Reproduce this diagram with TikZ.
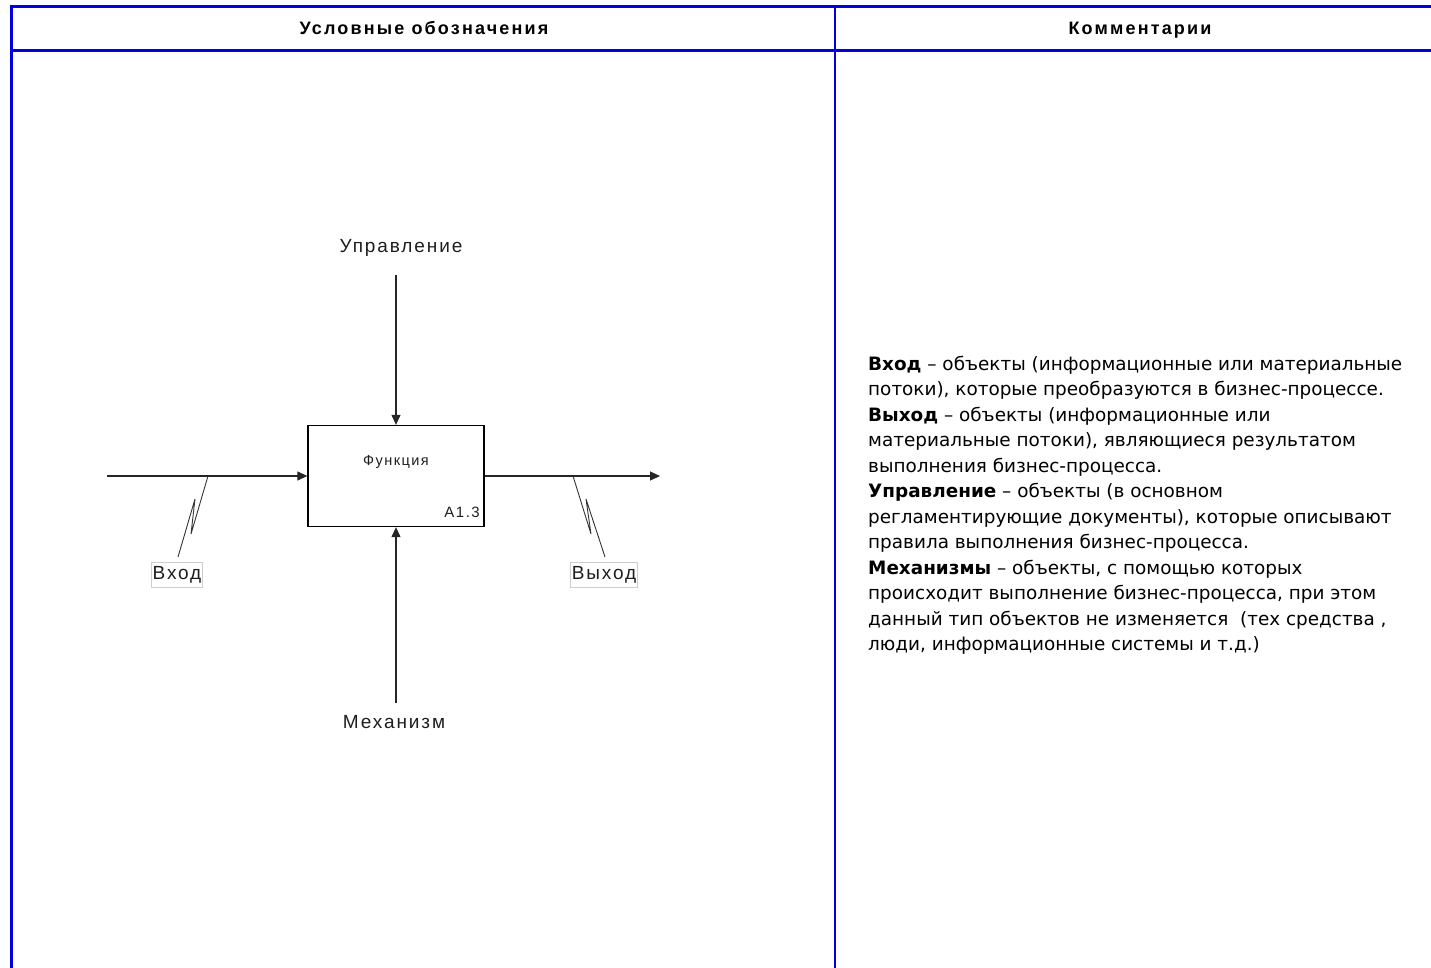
\documentclass[tikz,border=0pt]{standalone}
\usepackage{fontspec}
\setmainfont{Liberation Sans}
\newfontfamily\lblfont[LetterSpace=10]{Liberation Sans}
\newfontfamily\headfont[LetterSpace=12]{Liberation Sans}
\newfontfamily\notefont{DejaVu Sans}
\usetikzlibrary{arrows.meta}
\definecolor{frameblue}{RGB}{0,0,225}
\definecolor{inkgray}{RGB}{30,30,30}
\definecolor{tagborder}{RGB}{205,205,205}

\tikzset{
  frameline/.style={draw=frameblue, line cap=rect},
  headtext/.style={font=\headfont\bfseries\fontsize{18}{21}\selectfont, inner sep=0, anchor=base},
  lbl/.style={font=\lblfont\fontsize{19}{22}\selectfont, text=inkgray, inner sep=0},
  tag/.style={lbl, draw=tagborder, line width=0.8, minimum height=25, inner sep=1.5},
  funcbox/.style={draw=black, line width=1.3, minimum width=176, minimum height=101, inner sep=0},
  arrowline/.style={draw=black!85, line width=1.2, -{Triangle[length=10,width=9]}},
  squiggle/.style={draw=black!80, line width=0.9, line join=miter},
  noteline/.style={font=\notefont\fontsize{18.4}{22}\selectfont, anchor=west, inner sep=0,
                   text height=14, text depth=4}
}

\begin{document}
\begin{tikzpicture}[x=1pt,y=-1pt]
\useasboundingbox (0,0) rectangle (1431,967);
\clip (0,0) rectangle (1431,967);

% table frame
\draw[frameline, line width=3] (11,980) -- (11,6) -- (1445,6);
\draw[frameline, line width=3] (11,50) -- (1445,50);
\draw[frameline, line width=2] (835,6) -- (835,980);

% column headers
\node[headtext] (legendhead) at (424,34) {Условные обозначения};
\node[headtext] (notehead) at (1140,34) {Комментарии};

% function block
\node[funcbox] (func) at (396,476) {};
\node[lbl, font=\lblfont\fontsize{14.5}{17}\selectfont] (funcname) at (396,462) {Функция};
\node[lbl, font=\lblfont\fontsize{15}{17}\selectfont, anchor=east] (funcid) at (480,512) {A1.3};

% arrow end points
\coordinate (inStart) at (107,476);
\coordinate (outEnd) at (660,476);
\coordinate (ctrlStart) at (396,275);
\coordinate (mechStart) at (396,703);

\draw[arrowline] (inStart) -- (func.west);
\draw[arrowline] (func.east) -- (outEnd);
\draw[arrowline] (ctrlStart) -- (func.north);
\draw[arrowline] (mechStart) -- (func.south);

% arrow labels
\node[lbl] (ctrl) at (401,248) {Управление};
\node[lbl] (mech) at (394,722) {Механизм};
\node[tag, minimum width=50] (inTag) at (177,574.5) {Вход};
\node[tag, minimum width=66] (outTag) at (604,574.5) {Выход};

% squiggles tying labels to arrows
\coordinate (inTap) at (208,476);
\coordinate (inFoot) at (178,557);
\coordinate (outTap) at (573,476);
\coordinate (outFoot) at (605,557);
\draw[squiggle] (inTap) -- (191,534) -- (195,499) -- (inFoot);
\draw[squiggle] (outTap) -- (591,534) -- (586,499) -- (outFoot);

% comments column
\node[noteline] (n1) at (868,365.0) {\textbf{Вход} – объекты (информационные или материальные};
\node[noteline] (n2) at (868,390.5) {потоки), которые преобразуются в бизнес-процессе.};
\node[noteline] (n3) at (868,416.0) {\textbf{Выход} – объекты (информационные или};
\node[noteline] (n4) at (868,441.5) {материальные потоки), являющиеся результатом};
\node[noteline] (n5) at (868,467.0) {выполнения бизнес-процесса.};
\node[noteline] (n6) at (868,492.5) {\textbf{Управление} – объекты (в основном};
\node[noteline] (n7) at (868,518.0) {регламентирующие документы), которые описывают};
\node[noteline] (n8) at (868,543.5) {правила выполнения бизнес-процесса.};
\node[noteline] (n9) at (868,569.0) {\textbf{Механизмы} – объекты, с помощью которых};
\node[noteline] (n10) at (868,594.5) {происходит выполнение бизнес-процесса, при этом};
\node[noteline] (n11) at (868,620.0) {данный тип объектов не изменяется~ (тех средства ,};
\node[noteline] (n12) at (868,645.5) {люди, информационные системы и т.д.)};
\end{tikzpicture}
\end{document}
